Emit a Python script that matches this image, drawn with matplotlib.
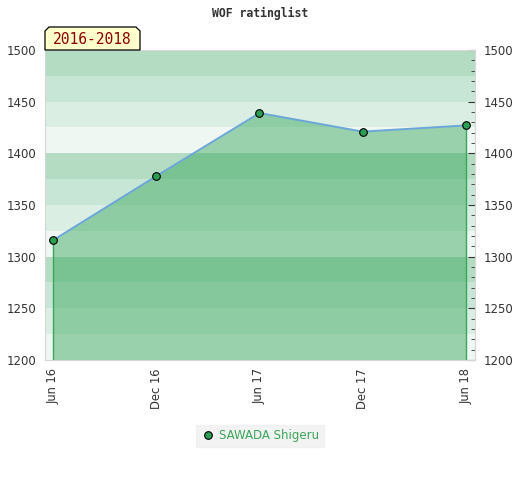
import matplotlib.pyplot as plt
import numpy as np
from matplotlib.patches import Polygon
from matplotlib.ticker import MultipleLocator

# data
months = ['Jun 16', 'Dec 16', 'Jun 17', 'Dec 17', 'Jun 18']
ratings = [1316, 1378, 1439, 1421, 1427]
player = 'SAWADA Shigeru'
period = '2016-2018'
title = 'WOF ratinglist'

band_colors = ['#eef7f1', '#dbeee3', '#c8e6d5', '#b3dcc3']
ymin, ymax = 1200, 1500

fig = plt.figure(figsize=(5.2, 4.8), dpi=100)
ax = fig.add_axes([45 / 520, 1 - 360 / 480, 430 / 520, 310 / 480])

x = np.arange(len(months))

# striped background, every 25 points
for i, lo in enumerate(np.arange(ymin, ymax, 25)):
    ax.axhspan(lo, lo + 25, color=band_colors[i % 4], lw=0, zorder=0)

ax.fill_between(x, ratings, ymin, color='#3ba85f', alpha=0.48, lw=0, zorder=1)
ax.vlines([x[0], x[-1]], ymin, [ratings[0], ratings[-1]], color='#3aa65a', lw=1, zorder=2)
ax.plot(x, ratings, color='#6aa6d8', lw=1.4, zorder=3)
ax.plot(x, ratings, 'o', ms=5.5, mfc='#2e9e55', mec='black', mew=0.8, zorder=4,
        label=player)

ax.set_xlim(-0.08, len(months) - 1 + 0.09)
ax.set_ylim(ymin, ymax)
ax.set_xticks(x)
ax.set_xticklabels(months, rotation=90, fontsize=8.3, color='#333333')
ax.set_yticks(np.arange(ymin, ymax + 1, 50))
ax.tick_params(axis='y', left=False, right=True, labelright=True,
               labelsize=8.5, labelcolor='#333333', direction='in',
               length=5, color='#333333', pad=6)
ax.yaxis.set_minor_locator(MultipleLocator(10))
ax.tick_params(axis='y', which='minor', left=False, right=True,
               direction='in', length=3, color='#333333')
ax.tick_params(axis='x', length=0, pad=6)
for s in ax.spines.values():
    s.set_color('#d6d6d6')

fig.text(0.5, 1 - 13 / 480, title, ha='center', va='center',
         family='DejaVu Sans Mono', weight='bold', fontsize=8.3, color='#333333')

# period label box with clipped top corners
W, H = 520, 480
pts = [(45, 50), (45, 31), (49, 27), (136, 27), (140, 31), (140, 50)]
fig.patches.append(Polygon([(px / W, 1 - py / H) for px, py in pts], closed=True,
                           transform=fig.transFigure, fc='#ffffcc', ec='black',
                           lw=0.9, zorder=5))
fig.text(92 / W, 1 - 40 / H, period, ha='center', va='center',
         family='DejaVu Sans Mono', fontsize=10.5, color='#8b0000', zorder=6)

leg = fig.legend(loc='center', bbox_to_anchor=(260 / W, 1 - 436 / H), frameon=True,
                 fontsize=8.5, handletextpad=0.4, handlelength=1.2, borderpad=0.35,
                 borderaxespad=0, fancybox=False)
leg.get_frame().set_facecolor('#f0f0f0')
leg.get_frame().set_edgecolor('#f0f0f0')
for t in leg.get_texts():
    t.set_color('#3aa65a')

fig.savefig('out.png', dpi=100)
